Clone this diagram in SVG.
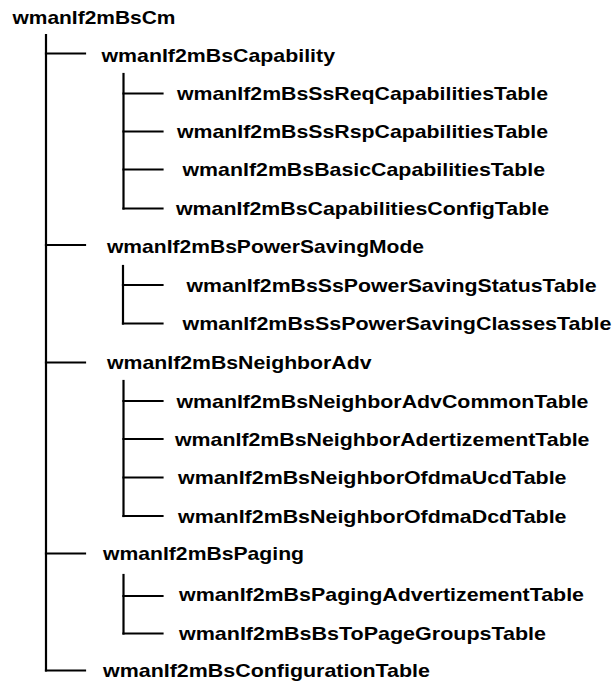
<svg xmlns="http://www.w3.org/2000/svg" width="612" height="681" viewBox="0 0 612 681">
<style>
text{font-family:"Liberation Sans",Arial,sans-serif;font-weight:bold;font-size:18.5px;fill:#000}
.c line{stroke:#000;stroke-width:2.2;stroke-linecap:square}
</style>
<rect width="612" height="681" fill="#fff"/>
<g id="connectors" class="c">
<line x1="46" y1="35" x2="46" y2="670.5"/>
<line x1="46" y1="53.5" x2="85" y2="53.5"/>
<line x1="46" y1="245" x2="85" y2="245"/>
<line x1="46" y1="362.5" x2="85" y2="362.5"/>
<line x1="46" y1="553.5" x2="85" y2="553.5"/>
<line x1="46" y1="670.5" x2="85" y2="670.5"/>
<line x1="123.5" y1="74" x2="123.5" y2="208.5"/>
<line x1="123.5" y1="93.5" x2="162.5" y2="93.5"/>
<line x1="123.5" y1="131.5" x2="162.5" y2="131.5"/>
<line x1="123.5" y1="169.5" x2="162.5" y2="169.5"/>
<line x1="123.5" y1="208.5" x2="162.5" y2="208.5"/>
<line x1="123" y1="266" x2="123" y2="323.5"/>
<line x1="123" y1="285" x2="162.5" y2="285"/>
<line x1="123" y1="323.5" x2="162.5" y2="323.5"/>
<line x1="123.5" y1="381" x2="123.5" y2="516"/>
<line x1="123.5" y1="401" x2="162.5" y2="401"/>
<line x1="123.5" y1="439" x2="162.5" y2="439"/>
<line x1="123.5" y1="477.5" x2="162.5" y2="477.5"/>
<line x1="123.5" y1="516" x2="162.5" y2="516"/>
<line x1="123.5" y1="575" x2="123.5" y2="633.5"/>
<line x1="123.5" y1="596" x2="162.5" y2="596"/>
<line x1="123.5" y1="633.5" x2="162.5" y2="633.5"/>
</g>
<g id="n-root"><text x="12.5" y="23.5" textLength="163" lengthAdjust="spacingAndGlyphs">wmanIf2mBsCm</text></g>
<g id="n-capability"><text x="101.5" y="62" textLength="233.5" lengthAdjust="spacingAndGlyphs">wmanIf2mBsCapability</text></g>
<g id="n-req"><text x="177" y="99.5" textLength="371" lengthAdjust="spacingAndGlyphs">wmanIf2mBsSsReqCapabilitiesTable</text></g>
<g id="n-rsp"><text x="177" y="138" textLength="371" lengthAdjust="spacingAndGlyphs">wmanIf2mBsSsRspCapabilitiesTable</text></g>
<g id="n-basic"><text x="182.5" y="176" textLength="362.5" lengthAdjust="spacingAndGlyphs">wmanIf2mBsBasicCapabilitiesTable</text></g>
<g id="n-capconfig"><text x="176" y="215" textLength="373" lengthAdjust="spacingAndGlyphs">wmanIf2mBsCapabilitiesConfigTable</text></g>
<g id="n-powersaving"><text x="107" y="253" textLength="317" lengthAdjust="spacingAndGlyphs">wmanIf2mBsPowerSavingMode</text></g>
<g id="n-pss-status"><text x="186.5" y="291.5" textLength="410" lengthAdjust="spacingAndGlyphs">wmanIf2mBsSsPowerSavingStatusTable</text></g>
<g id="n-pss-classes"><text x="182.5" y="330" textLength="429" lengthAdjust="spacingAndGlyphs">wmanIf2mBsSsPowerSavingClassesTable</text></g>
<g id="n-neighboradv"><text x="107" y="369" textLength="264.5" lengthAdjust="spacingAndGlyphs">wmanIf2mBsNeighborAdv</text></g>
<g id="n-nadv-common"><text x="176.5" y="407.5" textLength="412" lengthAdjust="spacingAndGlyphs">wmanIf2mBsNeighborAdvCommonTable</text></g>
<g id="n-nadv-adert"><text x="175" y="445.5" textLength="414.5" lengthAdjust="spacingAndGlyphs">wmanIf2mBsNeighborAdertizementTable</text></g>
<g id="n-nadv-ucd"><text x="178" y="484" textLength="388.5" lengthAdjust="spacingAndGlyphs">wmanIf2mBsNeighborOfdmaUcdTable</text></g>
<g id="n-nadv-dcd"><text x="178" y="522.5" textLength="388.5" lengthAdjust="spacingAndGlyphs">wmanIf2mBsNeighborOfdmaDcdTable</text></g>
<g id="n-paging"><text x="103" y="560" textLength="201" lengthAdjust="spacingAndGlyphs">wmanIf2mBsPaging</text></g>
<g id="n-paging-adv"><text x="179" y="601" textLength="405" lengthAdjust="spacingAndGlyphs">wmanIf2mBsPagingAdvertizementTable</text></g>
<g id="n-bstopage"><text x="179" y="639.5" textLength="367" lengthAdjust="spacingAndGlyphs">wmanIf2mBsBsToPageGroupsTable</text></g>
<g id="n-configtable"><text x="103" y="677" textLength="327" lengthAdjust="spacingAndGlyphs">wmanIf2mBsConfigurationTable</text></g>
</svg>
